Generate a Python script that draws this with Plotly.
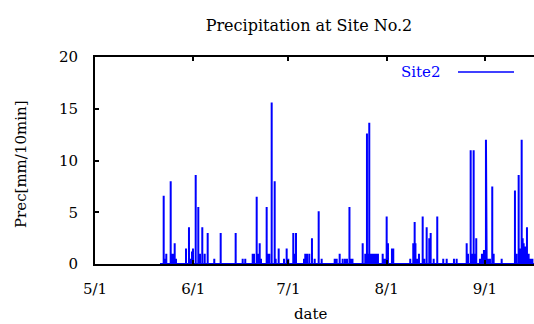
import pandas as pd
import plotly.graph_objects as go

# ---- data ----
season_start = "2003-05-01"
# rain events: day offset from 5/1 and precipitation [mm/10min]
event_day = [21.67, 21.99, 22.49, 23.88, 24.29, 24.6, 25.14, 25.55, 28.71, 29.65,
             30.19, 30.6, 30.91, 31.77, 32.59, 33.12, 33.85, 34.61, 35.55, 37.63,
             39.65, 44.38, 46.59, 47.41, 49.75, 50.16, 51.01, 51.32, 51.96, 52.37,
             54.16, 54.57, 54.98, 55.74, 56.69, 57.0, 57.95, 59.62, 60.47, 60.98,
             62.56, 63.0, 63.41, 65.93, 66.34, 66.88, 67.6, 68.45, 69.31, 70.57,
             71.51, 75.62, 76.25, 77.19, 78.14, 78.86, 79.5, 80.28, 80.76, 81.23,
             84.45, 85.27, 85.8, 86.18, 86.53, 87.07, 87.38, 87.79, 88.33, 88.87,
             89.27, 90.76, 91.17, 91.58, 92.02, 92.43, 93.69, 94.1, 99.46, 100.41,
             100.85, 101.1, 101.67, 102.21, 103.38, 103.88, 104.64, 105.46, 105.9, 106.85,
             107.98, 109.87, 110.95, 113.25, 114.1, 117.26, 117.67, 118.52, 118.93, 119.46,
             119.87, 120.28, 121.45, 122.08, 122.71, 123.34, 123.56, 123.97, 124.61, 125.33,
             125.77, 128.3, 132.49, 132.97, 133.66, 134.16, 134.61, 134.92, 135.24, 135.74,
             136.28, 136.81, 137.38, 138.0]
event_prec = [6.6, 0.5, 1.0, 8.0, 1.0, 1.0, 2.0, 0.5, 1.5, 3.55,
              0.5, 1.2, 1.5, 8.6, 5.5, 1.0, 3.55, 1.0, 3.0, 0.5,
              3.0, 3.0, 0.5, 0.5, 1.0, 1.0, 6.5, 1.0, 2.0, 0.5,
              5.5, 1.0, 1.0, 15.6, 8.0, 0.5, 1.5, 0.5, 1.5, 0.5,
              3.0, 1.0, 3.0, 0.5, 1.0, 1.0, 1.0, 2.5, 0.5, 5.1,
              0.5, 0.5, 0.5, 1.0, 0.5, 0.5, 0.5, 5.5, 0.5, 0.5,
              2.0, 1.0, 12.6, 1.0, 13.65, 1.0, 1.0, 1.0, 1.0, 1.0,
              1.0, 1.0, 0.5, 0.5, 4.6, 2.0, 1.5, 1.5, 0.5, 2.0,
              4.05, 2.0, 0.5, 1.0, 4.6, 0.5, 3.55, 2.5, 3.0, 0.5,
              4.6, 0.5, 0.5, 0.5, 0.5, 2.0, 1.0, 11.0, 1.0, 11.0,
              1.0, 2.5, 0.5, 1.0, 1.35, 12.0, 5.05, 0.5, 0.5, 7.5,
              1.0, 0.5, 7.1, 1.0, 8.6, 1.5, 12.0, 2.5, 2.0, 1.7,
              3.55, 1.0, 0.5, 0.5]
record_first_day = 20.5
record_last_day = 138.6
view_last_day = 138.5

tick_dates = ["2003-05-01", "2003-06-01", "2003-07-01", "2003-08-01", "2003-09-01"]
tick_labels = ["5/1", "6/1", "7/1", "8/1", "9/1"]
y_ticks = [0, 5, 10, 15, 20]

# ---- build 10-minute series (zero between events) ----
base = pd.Timestamp(season_start)
half = pd.Timedelta(minutes=5)
xs, ys = [base + pd.Timedelta(days=record_first_day)], [0.0]
for d, v in zip(event_day, event_prec):
    t = base + pd.Timedelta(days=d)
    xs += [t - half, t, t + half]
    ys += [0.0, v, 0.0]
xs.append(base + pd.Timedelta(days=record_last_day))
ys.append(0.0)

FONT = "DejaVu Serif"
BLUE = "#0000ff"

fig = go.Figure()
fig.add_trace(go.Scatter(x=xs, y=ys, mode="lines",
                         line=dict(color=BLUE, width=2),
                         showlegend=False, hoverinfo="skip"))

W, H = 534, 324
L, R, T, B = 95, 0, 57, 60
pw, ph = W - L - R, H - T - B

fig.update_layout(
    width=W, height=H,
    margin=dict(l=L, r=R, t=T, b=B),
    paper_bgcolor="white", plot_bgcolor="white",
    font=dict(family=FONT, size=15, color="black"),
    title=dict(text="Precipitation at Site No.2", x=309 / W, xref="container",
               xanchor="center", y=1 - 25 / H, yref="container", yanchor="middle",
               font=dict(family=FONT, size=16, color="black")),
    xaxis=dict(type="date",
               range=[base, base + pd.Timedelta(days=view_last_day)],
               tickvals=tick_dates, ticktext=tick_labels,
               showgrid=False, zeroline=False,
               showline=True, linecolor="black", linewidth=2, mirror="ticks",
               ticks="inside", ticklen=4, tickwidth=2, tickcolor="black",
               ticklabelstandoff=10,
               tickfont=dict(family=FONT, size=15, color="black")),
    yaxis=dict(range=[0, 20], tickvals=y_ticks,
               showgrid=False, zeroline=False,
               showline=True, linecolor="black", linewidth=2,
               ticks="inside", ticklen=4, tickwidth=2, tickcolor="black",
               ticklabelstandoff=12,
               tickfont=dict(family=FONT, size=15, color="black")),
    annotations=[
        dict(text="date", xref="paper", yref="paper",
             x=(311 - L) / pw, y=-(314 - T - ph) / ph, xanchor="center", yanchor="middle",
             showarrow=False, font=dict(family=FONT, size=15, color="black")),
        dict(text="Prec[mm/10min]", xref="paper", yref="paper", textangle=-90,
             x=(21 - L) / pw, y=1 - (164 - T) / ph, xanchor="center", yanchor="middle",
             showarrow=False, font=dict(family=FONT, size=15, color="black")),
        dict(text="Site2", xref="paper", yref="paper",
             x=(443 - L) / pw, y=1 - (72 - T) / ph, xanchor="right", yanchor="middle",
             showarrow=False, font=dict(family=FONT, size=15, color=BLUE)),
    ],
    shapes=[
        dict(type="line", xref="paper", yref="paper",
             x0=(458 - L) / pw, x1=(514 - L) / pw,
             y0=1 - (72 - T) / ph, y1=1 - (72 - T) / ph,
             line=dict(color=BLUE, width=1.5)),
    ],
)

fig.write_html("out.html")
